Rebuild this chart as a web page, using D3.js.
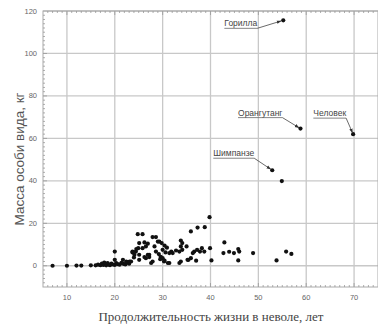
<!DOCTYPE html>
<html>
<head>
<meta charset="utf-8">
<script src="https://cdn.jsdelivr.net/npm/d3@7/dist/d3.min.js"></script>
<style>
body{margin:0;background:#fff}
svg{display:block}
</style>
</head>
<body>
<div id="chart"></div>
<script>
// lifespan in captivity (years) and body mass (kg)
const lifespan = [7,10,12,13,15,16,16.5,17,17.3,17.6,17.8,18,18.2,18.5,18.8,19,19.3,19.6,20,20.3,20.6,21,21.4,21.8,22.2,22.6,23,23.4,
  20,20,21.7,22.4,23.1,23.7,24.4,24,25.1,24.8,25.8,25.1,26.2,26.9,24.9,25.8,26.5,25.1,26.5,27.2,
  28.6,29,28.3,28.6,29.2,29.6,30,30.3,31.4,31.8,32.8,33.8,33.8,34.1,33.8,35.2,35.9,35.9,
  36.6,37.2,37.8,38.2,38.7,37.3,38.8,39.8,39.9,40.2,27.9,29.3,29.8,30.4,30.9,26.9,27.2,26.2,27.9,27.6,
  24.5,23.7,24.1,29.5,30.4,31.1,31.4,33.5,35,34.1,33.5,32.1,30,30.6,35.4,37,36.3,
  42.9,42.7,43.9,44.9,45.8,46,45.8,48.9,53.8,55.8,56.9,54.9];
const mass = [0,0,0.1,0.1,0.2,0.2,0.5,0.3,1,0.4,1.5,0.8,0.2,1.2,0.5,0.3,1,0.6,0.4,1.2,0.8,0.5,1.4,0.9,0.6,1.5,1,2,
  6.7,2.8,2.8,2,2,6.7,6.7,3.9,5.2,14.9,14.9,10.7,11,10.4,8.3,8.3,9.1,2.8,3.6,5.2,
  13.5,11.4,9.1,6.7,5.5,4.2,3.6,2,6,6.7,7.2,11.9,9.1,7.5,2,2.8,3.6,16.2,
  6.7,7.5,6.7,8.3,6.7,18,18.2,22.9,8.3,2.5,13.5,11.4,10.7,9.5,8.5,5.2,4.1,4.1,2,1.3,
  7.9,6.3,5.2,3.1,2.4,1.3,1.3,1.3,9.1,10.7,6.7,6,7.5,6.3,2.8,2.4,6,
  11,6,6.6,6,7.9,6.7,2.5,6,2.5,6.7,5.6,39.9];

const apeNames = ["Горилла","Орангутанг","Человек","Шимпанзе"];
const apeLifespan = [55.2,58.8,69.8,52.9];
const apeMass = [115.6,64.6,62,45];

const xTicks = [10,20,30,40,50,60,70];
const yTicks = [0,20,40,60,80,100,120];

const width = 378, height = 325;
const mLeft = 43, mRight = 378, mTop = 11, mBottom = 287;

const svg = d3.select("#chart").append("svg")
  .attr("width", width).attr("height", height);

const x = d3.scaleLinear().domain([5,75]).range([mLeft,mRight]);
const y = d3.scaleLinear().domain([-10,120]).range([mBottom,mTop]);

// grid
svg.append("g").selectAll("line").data(xTicks).join("line")
  .attr("x1", d => x(d)).attr("x2", d => x(d))
  .attr("y1", mTop).attr("y2", mBottom)
  .attr("stroke", "#c8c8c8").attr("stroke-width", 1.3);
svg.append("g").selectAll("line").data(yTicks).join("line")
  .attr("x1", mLeft).attr("x2", mRight)
  .attr("y1", d => y(d)).attr("y2", d => y(d))
  .attr("stroke", "#c8c8c8").attr("stroke-width", 1.3);

// frame
svg.append("rect").attr("x", mLeft).attr("y", mTop)
  .attr("width", mRight-mLeft).attr("height", mBottom-mTop)
  .attr("fill", "none").attr("stroke", "#aaa").attr("stroke-width", 1);

// minor ticks
const xMinor = d3.range(6, 75, 1);
const yMinor = d3.range(-8, 120, 2);
const tk = svg.append("g").attr("stroke", "#999").attr("stroke-width", 0.8);
tk.selectAll(".xb").data(xMinor).join("line").attr("class", "xb")
  .attr("x1", d => x(d)).attr("x2", d => x(d))
  .attr("y1", mBottom).attr("y2", d => mBottom - (d % 10 == 0 ? 4 : 2));
tk.selectAll(".xt").data(xMinor).join("line").attr("class", "xt")
  .attr("x1", d => x(d)).attr("x2", d => x(d))
  .attr("y1", mTop).attr("y2", d => mTop + (d % 10 == 0 ? 4 : 2));
tk.selectAll(".yl").data(yMinor).join("line").attr("class", "yl")
  .attr("x1", mLeft).attr("x2", d => mLeft + (d % 20 == 0 ? 4 : 2))
  .attr("y1", d => y(d)).attr("y2", d => y(d));

// tick labels
svg.append("g").selectAll("text").data(yTicks).join("text")
  .attr("x", mLeft - 6).attr("y", d => y(d) + 2.5)
  .attr("text-anchor", "end")
  .style("font", "7.5px 'Liberation Sans', Arial, sans-serif")
  .attr("fill", "#666").text(d => d);
svg.append("g").selectAll("text").data(xTicks).join("text")
  .attr("x", d => x(d)).attr("y", mBottom + 13)
  .attr("text-anchor", "middle")
  .style("font", "7.5px 'Liberation Sans', Arial, sans-serif")
  .attr("fill", "#666").text(d => d);

// axis titles
svg.append("text")
  .attr("transform", "translate(24," + ((mTop+mBottom)/2 + 10) + ") rotate(-90)")
  .attr("text-anchor", "middle")
  .style("font", "13.5px 'Liberation Sans', Arial, sans-serif")
  .attr("fill", "#555")
  .text("Масса особи вида, кг");
svg.append("text")
  .attr("x", 211).attr("y", 321)
  .attr("text-anchor", "middle")
  .style("font", "13px 'Liberation Serif', 'Times New Roman', serif")
  .attr("fill", "#444")
  .text("Продолжительность жизни в неволе, лет");

// points
const pts = lifespan.map((d,i) => ({x: d, y: mass[i]}));
apeNames.forEach((n,i) => pts.push({x: apeLifespan[i], y: apeMass[i]}));
svg.append("g").selectAll("circle").data(pts).join("circle")
  .attr("cx", d => x(d.x)).attr("cy", d => y(d.y))
  .attr("r", 2.1).attr("fill", "#111");

// annotations
svg.append("defs").append("marker")
  .attr("id", "arr").attr("viewBox", "0 0 10 10")
  .attr("refX", 9).attr("refY", 5)
  .attr("markerWidth", 6).attr("markerHeight", 6)
  .attr("orient", "auto")
  .append("path").attr("d", "M0,1.5L10,5L0,8.5Z").attr("fill", "#333");

// label end (right side of underline) offset from the point, px
const labelOffset = [[-26, 8], [-18, -11], [-7, -16], [-18, -12]];
const ann = svg.append("g");
apeNames.forEach((n,i) => {
  const px = x(apeLifespan[i]), py = y(apeMass[i]);
  const ex = px + labelOffset[i][0], ey = py + labelOffset[i][1];
  const t = ann.append("text")
    .attr("x", ex).attr("y", ey - 2)
    .attr("text-anchor", "end")
    .style("font", "8.5px 'Liberation Sans', Arial, sans-serif")
    .attr("fill", "#444").text(n);
  const w = t.node().getComputedTextLength();
  ann.append("line")
    .attr("x1", ex - w).attr("x2", ex)
    .attr("y1", ey).attr("y2", ey)
    .attr("stroke", "#666").attr("stroke-width", 0.8);
  ann.append("line")
    .attr("x1", ex).attr("y1", ey)
    .attr("x2", px - (px-ex)*0.08).attr("y2", py - (py-ey)*0.08)
    .attr("stroke", "#444").attr("stroke-width", 0.8)
    .attr("marker-end", "url(#arr)");
});
</script>
</body>
</html>
